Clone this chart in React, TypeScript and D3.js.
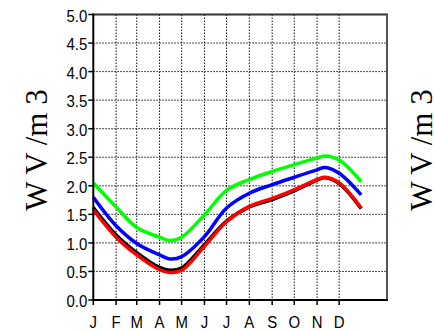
import * as d3 from "d3";

// ── Data ─────────────────────────────────────────────────────────────────────
const DAYS = [0, 31, 59, 90, 104, 120, 151, 181, 212, 243, 273, 304, 315, 334, 364];
const GREEN = [2.05, 1.63, 1.27, 1.10, 1.04, 1.10, 1.49, 1.92, 2.11, 2.25, 2.37, 2.49, 2.52, 2.45, 2.07];
const BLUE  = [1.80, 1.30, 0.99, 0.79, 0.72, 0.76, 1.11, 1.61, 1.87, 2.02, 2.15, 2.28, 2.32, 2.22, 1.84];
const BLACK = [1.62, 1.14, 0.83, 0.57, 0.52, 0.56, 0.97, 1.38, 1.63, 1.76, 1.91, 2.10, 2.14, 2.04, 1.60];
const RED   = [1.58, 1.10, 0.79, 0.53, 0.48, 0.52, 0.94, 1.37, 1.64, 1.78, 1.93, 2.11, 2.15, 2.05, 1.61];

const MONTH_START = [0, 31, 59, 90, 120, 151, 181, 212, 243, 273, 304, 334];
const MONTH_LABELS = ["J", "F", "M", "A", "M", "J", "J", "A", "S", "O", "N", "D"];
const Y_TICKS = [0, 0.5, 1, 1.5, 2, 2.5, 3, 3.5, 4, 4.5, 5];
const Y_LABEL = "W V /m 3";

const SERIES = [
  { values: BLACK, color: "#000000", width: 3.5 },
  { values: RED, color: "#ff0000", width: 3.5 },
  { values: BLUE, color: "#0000ff", width: 3.5 },
  { values: GREEN, color: "#00ff00", width: 3.5 },
];

// ── Layout ───────────────────────────────────────────────────────────────────
const W = 434, H = 331;
const left = 93.3, right = 387, top = 14.5, bottom = 300;

export default function App() {
  const x = d3.scaleLinear().domain([0, 399]).range([left, right]);
  const y = d3.scaleLinear().domain([0, 5]).range([bottom, top]);

  const line = d3.line<number>()
    .x((_, i) => x(DAYS[i]))
    .y(v => y(v))
    .curve(d3.curveCatmullRom.alpha(0.5));

  const tickFont = "'Liberation Sans', Arial, sans-serif";

  return (
    <svg width={W} height={H} style={{ position: "absolute", left: 0, top: 0, background: "#fff" }}>
      {/* grid */}
      {Y_TICKS.slice(1, -1).map(t => (
        <line key={"h" + t} x1={left} x2={right} y1={y(t)} y2={y(t)}
          stroke="#111" strokeWidth={1} strokeDasharray="1.5,1.5" />
      ))}
      {MONTH_START.slice(1).map(d => (
        <line key={"v" + d} x1={x(d)} x2={x(d)} y1={top} y2={bottom}
          stroke="#111" strokeWidth={1} strokeDasharray="1.5,1.5" />
      ))}

      {/* series */}
      {SERIES.map((s, i) => (
        <path key={i} d={line(s.values) ?? ""} fill="none" stroke={s.color}
          strokeWidth={s.width} strokeLinejoin="round" />
      ))}

      {/* frame */}
      <line x1={left} x2={right + 1} y1={top} y2={top} stroke="#333" strokeWidth={2} />
      <line x1={right} x2={right} y1={top} y2={bottom} stroke="#555" strokeWidth={2} />
      <line x1={left} x2={left} y1={top - 1} y2={bottom + 1} stroke="#000" strokeWidth={2} />
      <line x1={left} x2={right + 1} y1={bottom} y2={bottom} stroke="#000" strokeWidth={2} />

      {/* y ticks */}
      {Y_TICKS.map(t => (
        <g key={"yt" + t}>
          <line x1={left - 5} x2={left} y1={y(t)} y2={y(t)} stroke="#000" strokeWidth={1.5} />
          <text transform={`translate(${left - 6},${y(t) + 7}) scale(0.88,1)`}
            textAnchor="end" fontFamily={tickFont} fontSize={17} fill="#000">
            {t.toFixed(1)}
          </text>
        </g>
      ))}

      {/* x ticks */}
      {MONTH_START.map((d, i) => (
        <g key={"xt" + d}>
          <line x1={x(d)} x2={x(d)} y1={bottom} y2={bottom + 5} stroke="#000" strokeWidth={1.5} />
          <text transform={`translate(${x(d)},${328}) scale(0.88,1)`}
            textAnchor="middle" fontFamily={tickFont} fontSize={17} fill="#000">
            {MONTH_LABELS[i]}
          </text>
        </g>
      ))}

      {/* y-axis titles: this panel and the neighbouring one at the right edge */}
      {[47, 432].map(bx => (
        <text key={"yl" + bx} transform={`translate(${bx},150) rotate(-90)`}
          textAnchor="middle" fontFamily="'Liberation Serif', 'Times New Roman', serif"
          fontSize={31} fill="#000" xmlSpace="preserve">
          {Y_LABEL}
        </text>
      ))}
    </svg>
  );
}
